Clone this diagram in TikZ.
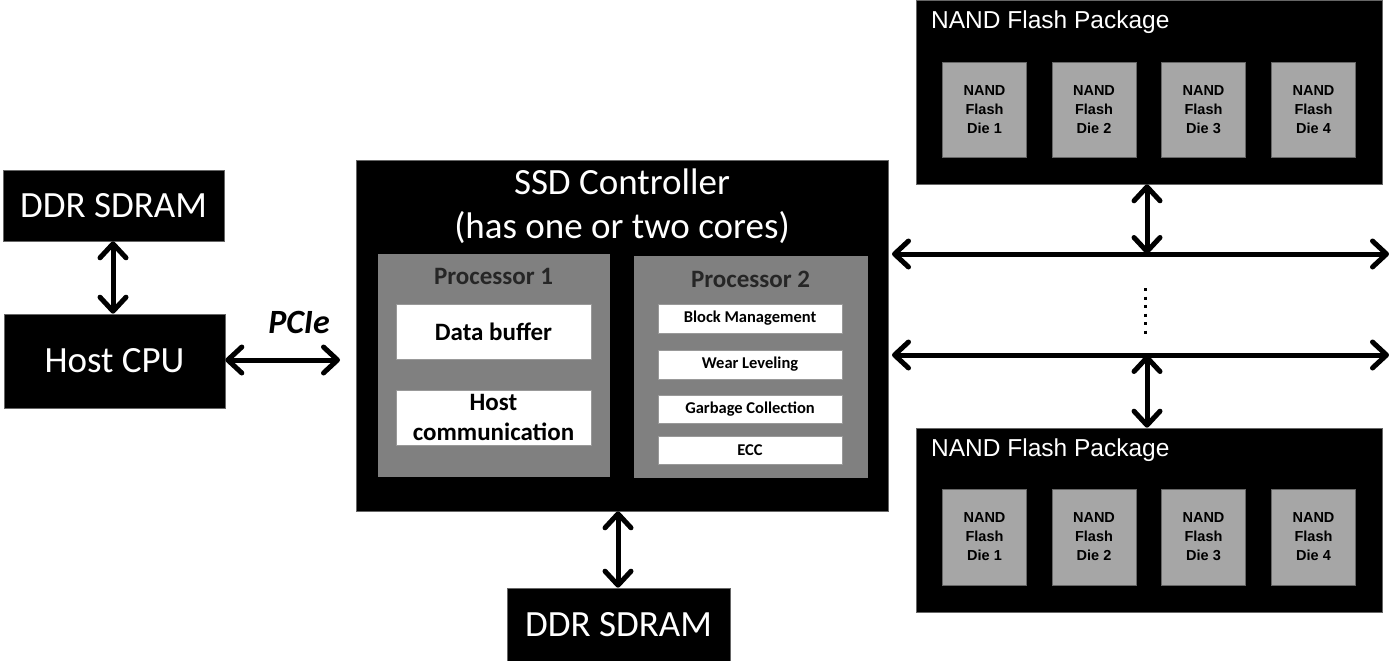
\documentclass[tikz,border=0pt]{standalone}
\usepackage{fontspec}
\setmainfont{Carlito}
\newfontfamily\arialfont{Liberation Sans}
\usetikzlibrary{arrows.meta}
\definecolor{procgray}{HTML}{808080}
\definecolor{diegray}{HTML}{A6A6A6}
\tikzset{
  blackbox/.style={rectangle, fill=black, draw=black!60, line width=0.6pt, inner sep=0pt, text=white},
  procbox/.style={rectangle, fill=procgray, draw=black!50, line width=0.6pt, inner sep=0pt},
  whitebox/.style={rectangle, fill=white, draw=black!40, line width=0.4pt, inner sep=0pt, align=center, font=\bfseries\fontsize{25}{30}\selectfont},
  taskbox/.style={rectangle, fill=white, draw=black!40, line width=0.4pt, inner sep=0pt, minimum width=184pt, font=\bfseries\fontsize{16.5}{19}\selectfont},
  diebox/.style={rectangle, fill=diegray, draw=black!60, line width=0.5pt, inner sep=0pt, minimum width=84pt, align=center, font=\arialfont\bfseries\fontsize{14.5}{19}\selectfont},
  bigtext/.style={font=\fontsize{37}{44}\selectfont},
  proctitle/.style={font=\bfseries\fontsize{25}{30}\selectfont, text=black!85, inner sep=0pt},
  pkgtitle/.style={anchor=west, text=white, inner sep=0pt, font=\arialfont\fontsize{24.5}{28}\selectfont},
  link/.style={line width=5pt, {Straight Barb[length=14pt,width=26pt,round]}-{Straight Barb[length=14pt,width=26pt,round]}}
}
\begin{document}
\begin{tikzpicture}[x=1pt,y=-1pt]
\useasboundingbox (0,0) rectangle (1389,661);

% host side
\node[blackbox, bigtext, minimum width=221pt, minimum height=71pt] (ddrL) at (113.5,205.5) {DDR SDRAM};
\node[blackbox, bigtext, minimum width=221pt, minimum height=94pt] (host) at (114.5,361) {Host CPU};

% SSD controller
\node[blackbox, minimum width=532pt, minimum height=351pt] (ssd) at (622,335.5) {};
\node[text=white, bigtext, align=center, inner sep=0pt] (ssdtitle) at (622,206) {SSD Controller\\(has one or two cores)};

\node[procbox, minimum width=231pt, minimum height=222pt] (p1) at (493.5,365) {};
\node[proctitle] (p1title) at (493.5,276) {Processor 1};
\node[whitebox, minimum width=195pt, minimum height=55pt] (buf) at (493.5,331.5) {Data buffer};
\node[whitebox, minimum width=195pt, minimum height=55pt] (hcomm) at (493.5,417.5) {Host\\communication};

\node[procbox, minimum width=233pt, minimum height=221pt] (p2) at (750.5,366.5) {};
\node[proctitle] (p2title) at (750.5,279) {Processor 2};
\node[taskbox, minimum height=29pt] (blk) at (750,318.5) {Block Management};
\node[taskbox, minimum height=29pt] (wear) at (750,364.5) {Wear Leveling};
\node[taskbox, minimum height=28pt] (gc) at (750,409.5) {Garbage Collection};
\node[taskbox, minimum height=28pt] (ecc) at (750,450) {ECC};

% controller DRAM
\node[blackbox, bigtext, minimum width=223pt, minimum height=73pt] (ddrB) at (618.5,624.5) {DDR SDRAM};

% NAND packages
\node[blackbox, minimum width=466pt, minimum height=184pt] (pkgT) at (1149,92) {};
\node[pkgtitle] (pkgTtitle) at (931,22) {NAND Flash Package};
\node[diebox, minimum height=95pt] (t1) at (984.5,109.5) {NAND\\Flash\\Die 1};
\node[diebox, minimum height=95pt] (t2) at (1094,109.5) {NAND\\Flash\\Die 2};
\node[diebox, minimum height=95pt] (t3) at (1203.5,109.5) {NAND\\Flash\\Die 3};
\node[diebox, minimum height=95pt] (t4) at (1313.5,109.5) {NAND\\Flash\\Die 4};

\node[blackbox, minimum width=466pt, minimum height=184pt] (pkgB) at (1149,520) {};
\node[pkgtitle] (pkgBtitle) at (931,450) {NAND Flash Package};
\node[diebox, minimum height=96pt] (b1) at (984.5,537) {NAND\\Flash\\Die 1};
\node[diebox, minimum height=96pt] (b2) at (1094,537) {NAND\\Flash\\Die 2};
\node[diebox, minimum height=96pt] (b3) at (1203.5,537) {NAND\\Flash\\Die 3};
\node[diebox, minimum height=96pt] (b4) at (1313.5,537) {NAND\\Flash\\Die 4};

% bus end points and junctions
\coordinate (pcieEnd) at (340,360);
\coordinate (bus1L) at (892,254);
\coordinate (bus1R) at (1389,254);
\coordinate (bus2L) at (892,355);
\coordinate (bus2R) at (1389,355);
\coordinate (tap1) at (1147,254);
\coordinate (tap2) at (1147,355);
\coordinate (dotsTop) at (1145,288);
\coordinate (dotsBot) at (1145,334);

% connectors
\draw[link] (ddrL.south -| 113,0) -- (host.north -| 113,0);
\draw[link] (host.east |- pcieEnd) -- (pcieEnd);
\node[font=\bfseries\itshape\fontsize{34}{40}\selectfont, inner sep=0pt] (pcie) at (299,322) {PCIe};
\draw[link] (ssd.south -| 618,0) -- (ddrB.north -| 618,0);
\draw[link] (bus1L) -- (bus1R);
\draw[link] (bus2L) -- (bus2R);
\draw[link] (pkgT.south -| tap1) -- (tap1);
\draw[link] (tap2) -- (pkgB.north -| tap2);
\draw[line width=3pt, dash pattern=on 3pt off 5.5pt] (dotsTop) -- (dotsBot);
\end{tikzpicture}
\end{document}
